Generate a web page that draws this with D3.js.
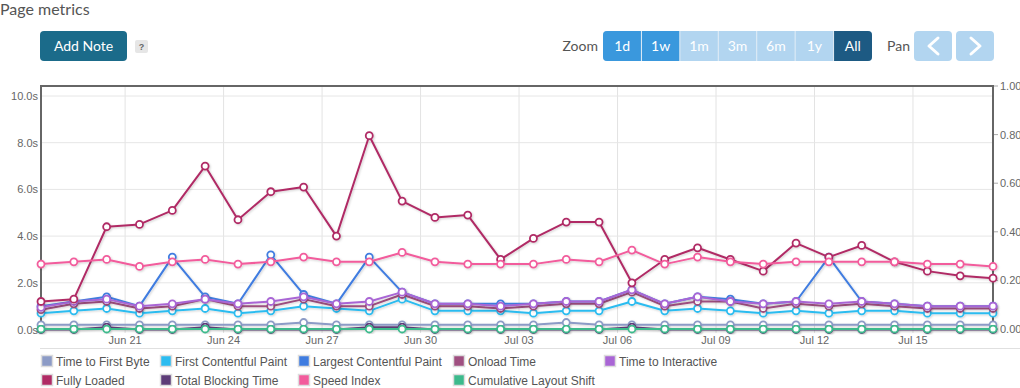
<!DOCTYPE html>
<html>
<head>
<meta charset="utf-8">
<script src="https://cdn.jsdelivr.net/npm/d3@7/dist/d3.min.js"></script>
<style>
  html, body { margin: 0; padding: 0; background: #fff; }
  svg { display: block; }
</style>
</head>
<body>
<svg id="chart" width="1020" height="388"></svg>
<script>
// ---------- DATA ----------
const startDate = new Date(2024, 5, 18, 10, 30);
const dayCount = 30;
const xTickLabels = ["Jun 21", "Jun 24", "Jun 27", "Jun 30", "Jul 03", "Jul 06", "Jul 09", "Jul 12", "Jul 15"];
const leftTicks = [0, 2, 4, 6, 8, 10];
const rightTicks = [0, 0.2, 0.4, 0.6, 0.8, 1.0];
const zoomButtons = ["1d", "1w", "1m", "3m", "6m", "1y", "All"];

const timeToFirstByte = [0.2,0.2,0.2,0.2,0.2,0.2,0.2,0.2,0.3,0.2,0.2,0.2,0.2,0.2,0.2,0.2,0.3,0.2,0.2,0.2,0.2,0.2,0.2,0.2,0.2,0.2,0.2,0.2,0.2,0.2];
const firstContentfulPaint = [0.7,0.8,0.9,0.7,0.8,0.9,0.7,0.8,1.0,0.9,0.8,1.3,0.8,0.8,0.8,0.7,0.8,0.8,1.2,0.8,0.9,0.8,0.7,0.8,0.7,0.8,0.8,0.7,0.7,0.7];
const largestContentfulPaint = [1.0,1.2,1.4,1.0,3.1,1.4,1.1,3.2,1.5,1.1,3.1,1.6,1.1,1.1,1.1,1.1,1.2,1.2,1.7,1.1,1.4,1.3,1.1,1.2,3.1,1.2,1.1,1.0,1.0,1.0];
const onloadTime = [0.85,1.1,1.2,0.9,1.0,1.3,1.0,1.0,1.3,1.0,1.0,1.5,1.0,1.0,0.9,1.0,1.1,1.1,1.6,1.0,1.2,1.2,0.9,1.1,1.0,1.1,1.0,0.9,0.9,0.9];
const timeToInteractive = [0.95,1.2,1.3,1.0,1.1,1.3,1.1,1.2,1.4,1.1,1.2,1.6,1.1,1.1,1.0,1.1,1.2,1.2,1.7,1.1,1.4,1.2,1.1,1.2,1.1,1.2,1.1,1.0,1.0,1.0];
const fullyLoaded = [1.2,1.3,4.4,4.5,5.1,7.0,4.7,5.9,6.1,4.0,8.3,5.5,4.8,4.9,3.0,3.9,4.6,4.6,2.0,3.0,3.5,3.0,2.5,3.7,3.1,3.6,2.9,2.5,2.3,2.2];
const totalBlockingTime = [0,0,0.1,0,0,0.1,0,0,0,0,0.1,0.1,0,0,0,0,0,0,0.1,0,0,0,0,0,0,0,0,0,0,0];
const speedIndex = [2.8,2.9,3.0,2.7,2.9,3.0,2.8,2.9,3.1,2.9,2.9,3.3,2.9,2.8,2.8,2.8,3.0,2.9,3.4,2.8,3.1,2.9,2.8,2.9,2.9,2.9,2.9,2.8,2.8,2.7];
const cumulativeLayoutShift = [0,0,0,0,0,0,0,0,0,0,0,0,0,0,0,0,0,0,0,0,0,0,0,0,0,0,0,0,0,0];

const seriesNames = ["Time to First Byte","First Contentful Paint","Largest Contentful Paint","Onload Time","Time to Interactive","Fully Loaded","Total Blocking Time","Speed Index","Cumulative Layout Shift"];
const seriesColors = ["#8c9bc6","#2cbcf0","#3f7ce0","#9f4f80","#a965d5","#b02b65","#5d3c78","#f25c9c","#3cba8c"];
const seriesValues = [timeToFirstByte, firstContentfulPaint, largestContentfulPaint, onloadTime, timeToInteractive, fullyLoaded, totalBlockingTime, speedIndex, cumulativeLayoutShift];
const seriesAxis = ["left","left","left","left","left","left","left","left","right"];

// ---------- LAYOUT ----------
const svg = d3.select("#chart");
const font = "'Liberation Sans', Arial, sans-serif";
const uiFont = "Lato, 'Open Sans', sans-serif";
const plot = { left: 41, right: 993, top: 86, bottom: 333 };

const dates = d3.range(dayCount).map(i => d3.timeDay.offset(startDate, i));
const x = d3.scaleTime().domain([dates[0], dates[dates.length - 1]]).range([plot.left, plot.right]);
const yL = d3.scaleLinear().domain([0, 10]).range([329.5, 96]);
const yR = d3.scaleLinear().domain([0, 1]).range([329, 86]);

// ---------- HEADER ----------
svg.append("text").attr("x", 0).attr("y", 15).attr("font-family", uiFont).attr("font-size", 16)
  .attr("fill", "#555").text("Page metrics");

svg.append("rect").attr("x", 40).attr("y", 31).attr("width", 87).attr("height", 30).attr("rx", 4).attr("fill", "#1b6b8a");
svg.append("text").attr("x", 83.5).attr("y", 51).attr("text-anchor", "middle").attr("font-family", uiFont)
  .attr("font-size", 14).attr("fill", "#fff").text("Add Note");
svg.append("rect").attr("x", 135).attr("y", 40).attr("width", 13).attr("height", 13).attr("rx", 2).attr("fill", "#e6e6e6");
svg.append("text").attr("x", 141.5).attr("y", 50).attr("text-anchor", "middle").attr("font-family", font)
  .attr("font-size", 9).attr("font-weight", "bold").attr("fill", "#666").text("?");

svg.append("text").attr("x", 598).attr("y", 51).attr("text-anchor", "end").attr("font-family", uiFont)
  .attr("font-size", 14).attr("fill", "#555").text("Zoom");
const btnX = d3.scaleBand().domain(zoomButtons).range([603, 872]);
const btnColor = b => (b === "1d" || b === "1w") ? "#3a98dd" : (b === "All" ? "#1d5a83" : "#b2d5f0");
const zg = svg.append("g");
zg.append("rect").attr("x", 603).attr("y", 31).attr("width", 269).attr("height", 30).attr("rx", 4).attr("fill", "#b2d5f0");
zoomButtons.forEach((b, i) => {
  const isFirst = i === 0, isLast = i === zoomButtons.length - 1;
  const bx = btnX(b), bw = btnX.bandwidth();
  if (isFirst || isLast) {
    zg.append("rect").attr("x", bx).attr("y", 31).attr("width", bw).attr("height", 30).attr("rx", 4).attr("fill", btnColor(b));
    zg.append("rect").attr("x", isFirst ? bx + 6 : bx).attr("y", 31).attr("width", bw - 6).attr("height", 30).attr("fill", btnColor(b));
  } else {
    zg.append("rect").attr("x", bx).attr("y", 31).attr("width", bw).attr("height", 30).attr("fill", btnColor(b));
  }
  if (i > 0) zg.append("line").attr("x1", bx).attr("x2", bx).attr("y1", 31).attr("y2", 61).attr("stroke", "#e4eef7").attr("stroke-width", 1);
  zg.append("text").attr("x", bx + bw / 2).attr("y", 51).attr("text-anchor", "middle").attr("font-family", uiFont)
    .attr("font-size", 14).attr("fill", "#fff").text(b);
});

svg.append("text").attr("x", 887).attr("y", 51).attr("font-family", uiFont).attr("font-size", 14).attr("fill", "#555").text("Pan");
[[914, "M938,38 L929,46 L938,54"], [956, "M971,38 L980,46 L971,54"]].forEach(([bx, p]) => {
  svg.append("rect").attr("x", bx).attr("y", 31).attr("width", 38).attr("height", 30).attr("rx", 4).attr("fill", "#b2d5f0");
  svg.append("path").attr("d", p).attr("fill", "none").attr("stroke", "#fff").attr("stroke-width", 3)
    .attr("stroke-linecap", "round").attr("stroke-linejoin", "round");
});

// ---------- GRID ----------
const tickDates = xTickLabels.map((_, i) => new Date(2024, 5, 21 + 3 * i));
const fmt = d3.timeFormat("%b %d");
const g = svg.append("g");
g.selectAll(".vg").data(tickDates).join("line")
  .attr("x1", d => x(d)).attr("x2", d => x(d)).attr("y1", plot.top).attr("y2", plot.bottom)
  .attr("stroke", "#e3e3e3").attr("stroke-width", 1);
g.selectAll(".hg").data(leftTicks).join("line")
  .attr("x1", plot.left).attr("x2", plot.right).attr("y1", d => yL(d)).attr("y2", d => yL(d))
  .attr("stroke", "#e6e6e6").attr("stroke-width", 1);

// Axes labels
g.selectAll(".xl").data(tickDates).join("text")
  .attr("x", d => x(d)).attr("y", 344).attr("text-anchor", "middle").attr("font-family", font)
  .attr("font-size", 11).attr("fill", "#666").text((d, i) => xTickLabels[i]);
g.selectAll(".yl").data(leftTicks).join("text")
  .attr("x", 38).attr("y", d => yL(d) + 4).attr("text-anchor", "end").attr("font-family", font)
  .attr("font-size", 11).attr("fill", "#666").text(d => d.toFixed(1) + "s");
g.selectAll(".yr").data(rightTicks).join("text")
  .attr("x", 1000).attr("y", d => yR(d) + 4).attr("text-anchor", "start").attr("font-family", font)
  .attr("font-size", 11).attr("fill", "#666").text(d => d.toFixed(2));
g.selectAll(".yrt").data(rightTicks).join("line")
  .attr("x1", plot.right).attr("x2", plot.right + 5).attr("y1", d => yR(d)).attr("y2", d => yR(d))
  .attr("stroke", "#aaa").attr("stroke-width", 1);

// Plot border (left, top, right)
g.append("path").attr("d", `M${plot.left},${plot.bottom} L${plot.left},${plot.top} L${plot.right},${plot.top} L${plot.right},${plot.bottom}`)
  .attr("fill", "none").attr("stroke", "#666").attr("stroke-width", 2);

// ---------- SERIES ----------
const defs = svg.append("defs");
const f = defs.append("filter").attr("id", "sh").attr("x", "-5%").attr("y", "-5%").attr("width", "110%").attr("height", "120%");
f.append("feDropShadow").attr("dx", 1).attr("dy", 1).attr("stdDeviation", 0.8).attr("flood-color", "#000").attr("flood-opacity", 0.18);

const sg = svg.append("g");
seriesValues.forEach((vals, si) => {
  const ys = seriesAxis[si] === "right" ? yR : yL;
  const pts = vals.map((v, i) => [x(dates[i]), ys(v)]);
  const line = d3.line();
  const grp = sg.append("g").attr("filter", "url(#sh)");
  grp.append("path").attr("d", line(pts)).attr("fill", "none").attr("stroke", seriesColors[si])
    .attr("stroke-width", 2).attr("stroke-linejoin", "round");
  grp.selectAll("circle").data(pts).join("circle")
    .attr("cx", d => d[0]).attr("cy", d => d[1]).attr("r", 3.5)
    .attr("fill", "#fff").attr("stroke", seriesColors[si]).attr("stroke-width", 1.8);
});

// ---------- LEGEND ----------
svg.append("line").attr("x1", 40).attr("x2", 1020).attr("y1", 348.5).attr("y2", 348.5).attr("stroke", "#e0e0e0");
const legendCols = [41, 160, 298, 453, 604];
const lg = svg.append("g");
seriesNames.forEach((name, i) => {
  const row = i < 5 ? 0 : 1;
  const col = i < 5 ? i : (i - 5 < 3 ? i - 5 : 3);
  const lx = legendCols[col], ly = row === 0 ? 361 : 380;
  lg.append("rect").attr("x", lx + 0.5).attr("y", ly - 5.5).attr("width", 11).attr("height", 11)
    .attr("fill", seriesColors[i]).attr("stroke", "#ddd").attr("stroke-width", 1.5);
  lg.append("text").attr("x", lx + 15).attr("y", ly + 4.5).attr("font-family", font)
    .attr("font-size", 12).attr("fill", "#555").text(name);
});
</script>
</body>
</html>
